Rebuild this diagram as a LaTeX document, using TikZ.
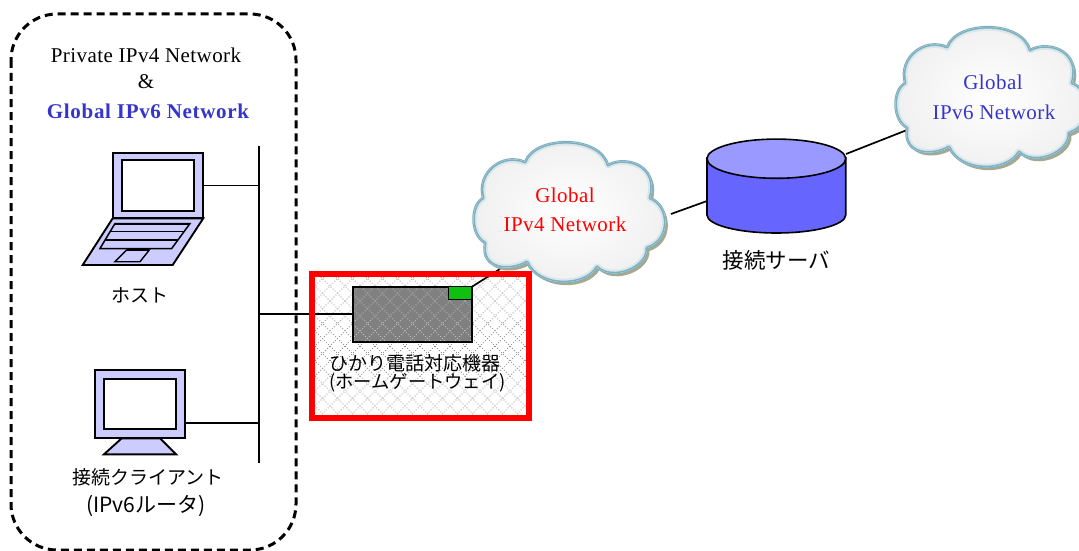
\documentclass[tikz,border=0pt]{standalone}
\usepackage{fontspec}
\setmainfont{Liberation Serif}
\newfontfamily\lat[LetterSpace=2]{Liberation Serif}
\newfontfamily\latb[LetterSpace=3.2]{Liberation Serif}
\newfontfamily\cjk{Noto Sans CJK JP}
\definecolor{lav}{HTML}{CCCCFF}
\definecolor{cylbody}{HTML}{6666FF}
\definecolor{cyltop}{HTML}{9999FF}
\definecolor{rimc}{HTML}{7FB0BF}
\definecolor{shadc}{HTML}{A9A88F}
\definecolor{netblue}{HTML}{3535CC}
\definecolor{green1}{HTML}{10C010}
\def\cloudpath{(483,198) .. controls (476,172) and (503,152) .. (525,162)
  .. controls (535,135) and (600,135) .. (608,165)
  .. controls (625,155) and (660,165) .. (650,198)
  .. controls (670,205) and (672,240) .. (647,248)
  .. controls (648,268) and (612,282) .. (597,267)
  .. controls (585,288) and (538,288) .. (527,262)
  .. controls (510,272) and (480,270) .. (485,243)
  .. controls (470,235) and (470,205) .. (483,198) -- cycle}
\tikzset{
  conn/.style={draw=black,line width=1.7pt},
  dev/.style={draw=black,line width=1.9pt,fill=lav,line join=miter},
  scr/.style={draw=black,line width=1.9pt,fill=white,inner sep=0pt,outer sep=0pt},
  devbox/.style={draw=black,line width=1.9pt,fill=lav,inner sep=0pt,outer sep=0pt},
  jp/.style={font=\cjk\fontsize{19}{19}\selectfont,inner sep=0pt,text=black},
  en/.style={font=\lat\fontsize{21}{21}\selectfont,inner sep=0pt},
  enb/.style={font=\latb\bfseries\fontsize{21}{21}\selectfont,inner sep=0pt,text=netblue},
  cloudfill/.style={inner color=white,outer color=black!6}
}
\newcommand{\drawcloud}{%
  \fill[shadc,shift={(2.5,3)}] \cloudpath;
  \draw[rimc,line width=2.5pt,line join=round] \cloudpath;
  \begin{scope}
    \clip \cloudpath;
    \shade[cloudfill] \cloudpath;
    \draw[rimc!30,line width=7pt,line join=round] \cloudpath;
    \draw[rimc,line width=3pt,line join=round] \cloudpath;
  \end{scope}
}
\begin{document}
\begin{tikzpicture}[x=1pt,y=-1pt]
\useasboundingbox (0,0) rectangle (1079,551);
\clip (0,0) rectangle (1079,551);
\fill[white] (0,0) rectangle (1079,551);

% outer dashed boundary
\draw[line width=3pt,dash pattern=on 8pt off 5pt,rounded corners=46pt] (11,14) rectangle (296,550);

\node[en] (t1) at (146,55) {Private IPv4 Network};
\node[en] (t2) at (146,82) {\&};
\node[enb] (t3) at (148,111) {Global IPv6 Network};

% hatched box background
\begin{scope}
  \clip (312,274) rectangle (529,418);
  \foreach \i in {-150,-135,...,540} {
    \draw[black!45,line width=.8pt,dotted] (\i,271) -- ++(150,150);
    \draw[black!45,line width=.8pt,dotted] (\i+150,271) -- ++(-150,150);
  }
\end{scope}

% bus
\coordinate (busT) at (258.7,146);
\coordinate (busB) at (258.7,463);
\draw[line width=1.9pt] (busT) -- (busB);

% laptop
\node[devbox,minimum width=90.6pt,minimum height=65.6pt] (laptop) at (158,185.5) {};
\node[scr,minimum width=72pt,minimum height=50.7pt] (lapscr) at (158.3,185.4) {};
\draw[dev] (laptop.south west) -- (laptop.south east) -- (172.7,265) -- (82.7,265) -- cycle;
\draw[line width=1.5pt,fill=lav] (115,223.5) -- (190,223.5) -- (171.7,248.5) -- (100,248.5) -- cycle;
\draw[line width=2.6pt] (115,224) -- (190,224);
\draw[line width=1.5pt] (109.7,231.5) -- (184.3,231.5);
\draw[line width=1.5pt] (104.5,240) -- (178,240);
\draw[line width=1.4pt,fill=lav] (126.7,250) -- (149.3,250) -- (140,261.7) -- (115,261.7) -- cycle;
\draw[line width=2.4pt] (126.7,250) -- (149.3,250);
\draw[conn] (laptop.east) -- (laptop.east -| busT);
\node[jp] (hostlabel) at (140,295) {ホスト};

% monitor
\node[devbox,minimum width=90pt,minimum height=68.3pt] (monitor) at (140,404.2) {};
\node[scr,minimum width=72pt,minimum height=49.7pt] (monscr) at (140,404.2) {};
\draw[dev] (121.7,438.3) -- (160,438.3) -- (176,454.3) -- (104,454.3) -- cycle;
\coordinate (monport) at (185,422.7);
\draw[conn] (monport) -- (monport -| busT);
\node[jp] (cl1) at (148,477) {接続クライアント};
\node[jp,font=\cjk\fontsize{21}{21}\selectfont] (cl2) at (146,506) {(IPv6ルータ)};

% gateway
\node[draw=black,line width=1.6pt,fill=black!50,minimum width=119pt,minimum height=55pt,inner sep=0pt,outer sep=0pt] (gw) at (412.5,314.2) {};
\begin{scope}
  \clip (gw.south west) rectangle (gw.north east);
  \foreach \i in {-150,-135,...,540} {
    \draw[black!22,line width=.8pt,dotted] (\i,271) -- ++(150,150);
    \draw[black!22,line width=.8pt,dotted] (\i+150,271) -- ++(-150,150);
  }
\end{scope}
\draw[line width=1.6pt] (gw.south west) rectangle (gw.north east);
\node[draw=black,line width=1.2pt,fill=green1,minimum width=23.5pt,minimum height=13pt,inner sep=0pt,outer sep=0pt,anchor=north east] (led) at (gw.north east) {};
\draw[conn] (gw.west) -- (gw.west -| busT);
\coordinate (cl1port) at (500,269);
\draw[conn] (gw.north east) -- (cl1port);

% red frame
\node[draw=red,line width=6pt,minimum width=216.5pt,minimum height=144.5pt,inner sep=0pt] (redbox) at (420.7,346.2) {};

\node[jp] (gw1) at (414.5,363) {ひかり電話対応機器};
\node[jp,font=\cjk\fontsize{18.3}{18.3}\selectfont] (gw2) at (417.5,383) {(ホームゲートウェイ)};

% connectors to server and cloud
\coordinate (cl1e) at (671,214);
\coordinate (cl2w) at (907,130);
\coordinate (srvW) at (707,201);
\coordinate (srvE) at (846,154);
\draw[conn] (cl1e) -- (srvW);
\draw[conn] (srvE) -- (cl2w);

% clouds
\begin{scope}
  \drawcloud
  \node[en,text=red] (c1a) at (565,195) {Global};
  \node[en,text=red] (c1b) at (565,224) {IPv4 Network};
\end{scope}
\begin{scope}[shift={(422,-115)}]
  \drawcloud
\end{scope}
\node[en,text=netblue] (c2a) at (993,82) {Global};
\node[en,text=netblue] (c2b) at (994,112) {IPv6 Network};

% server
\path[draw=black,line width=1.6pt,fill=cylbody] (707,158) -- (707,215) arc[start angle=180,end angle=360,x radius=69.35pt,y radius=18pt] -- (845.7,158) -- cycle;
\draw[line width=1.6pt,fill=cyltop] (776.35,158.7) ellipse[x radius=69.35pt,y radius=19.6pt];
\node[jp,font=\cjk\fontsize{21.5}{21.5}\selectfont] (srvlabel) at (776.5,260) {接続サーバ};
\end{tikzpicture}
\end{document}
